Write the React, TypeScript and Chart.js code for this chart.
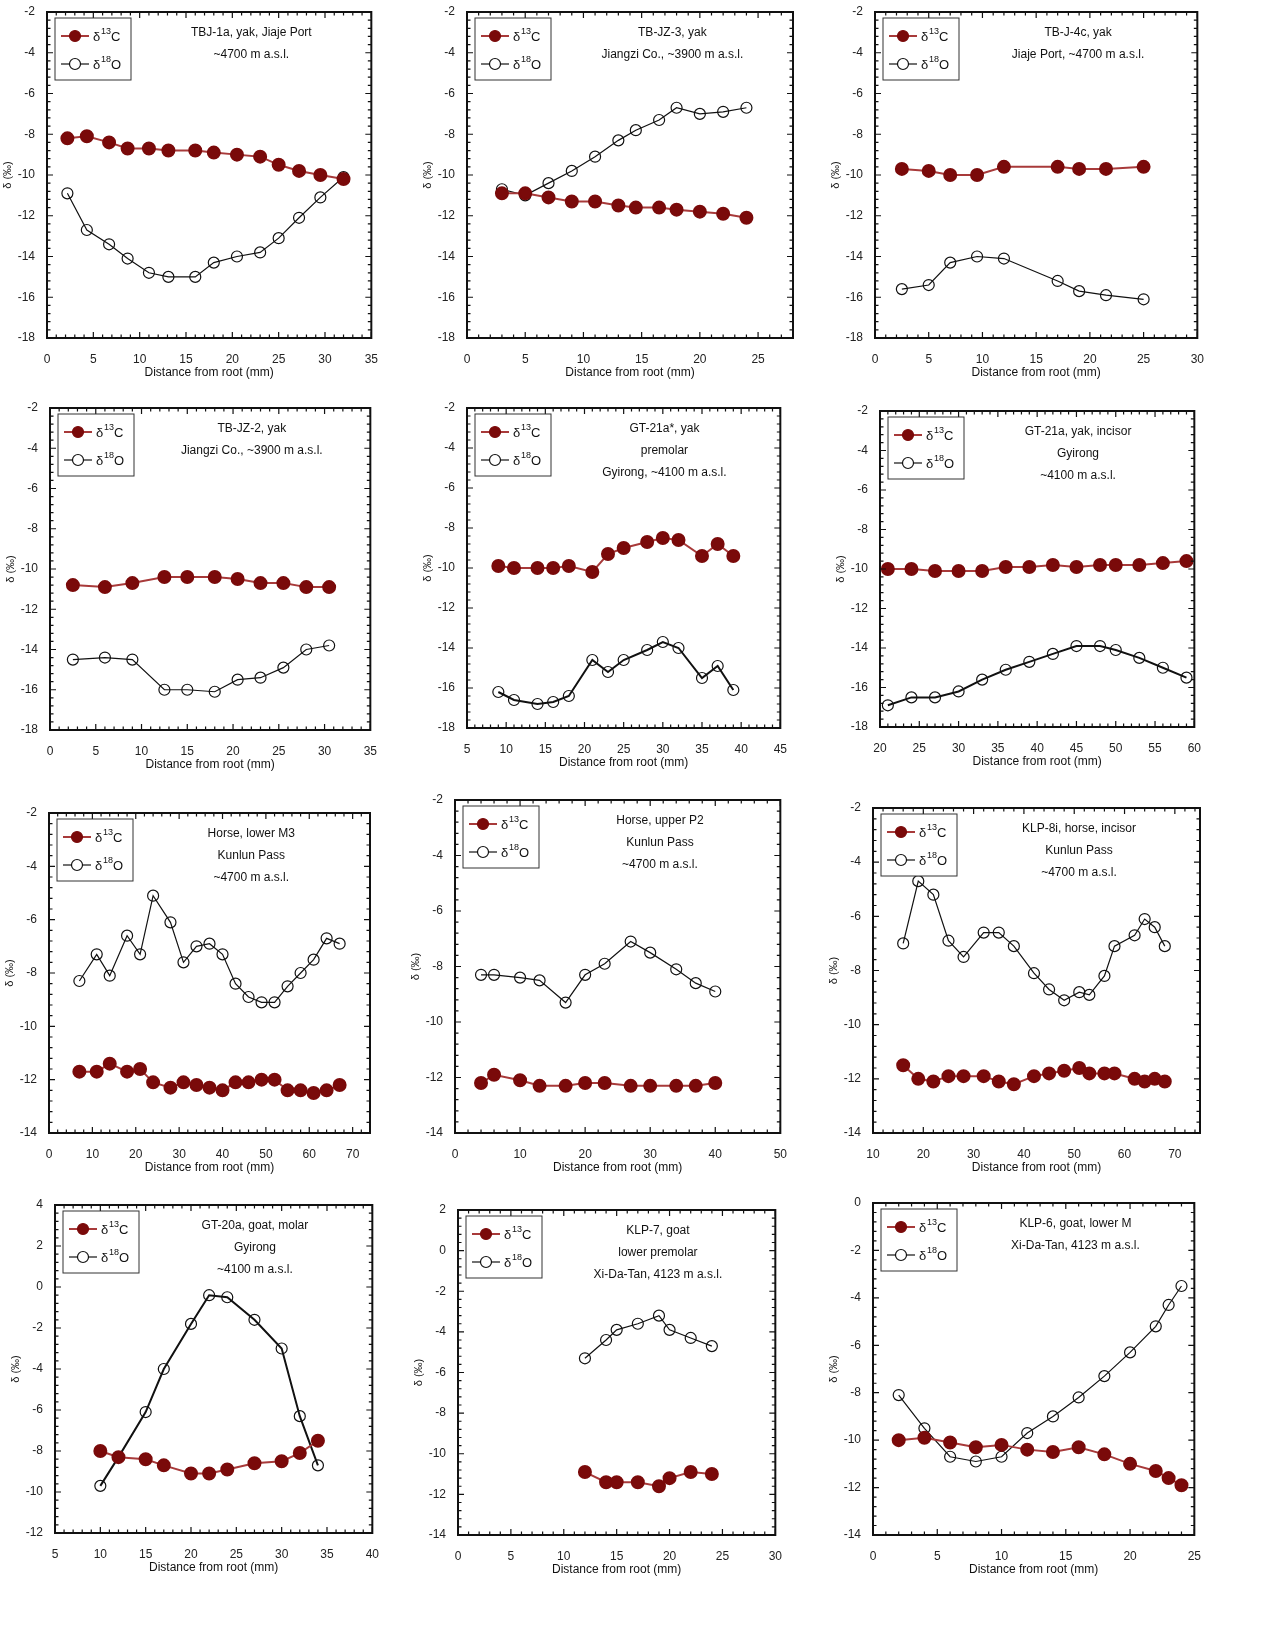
import React, { useEffect, useRef } from 'react';
import { Chart, registerables } from 'chart.js';

Chart.register(...registerables);

// panel data: distances (mm), d13C, d18O
const p1X = [2.2, 4.3, 6.7, 8.7, 11, 13.1, 16, 18, 20.5, 23, 25, 27.2, 29.5, 32];
const p1C = [-8.2, -8.1, -8.4, -8.7, -8.7, -8.8, -8.8, -8.9, -9.0, -9.1, -9.5, -9.8, -10.0, -10.2];
const p1O = [-10.9, -12.7, -13.4, -14.1, -14.8, -15.0, -15.0, -14.3, -14.0, -13.8, -13.1, -12.1, -11.1, -10.1];

const p2X = [3, 5, 7, 9, 11, 13, 14.5, 16.5, 18, 20, 22, 24];
const p2C = [-10.9, -10.9, -11.1, -11.3, -11.3, -11.5, -11.6, -11.6, -11.7, -11.8, -11.9, -12.1];
const p2O = [-10.7, -11.0, -10.4, -9.8, -9.1, -8.3, -7.8, -7.3, -6.7, -7.0, -6.9, -6.7];

const p3X = [2.5, 5, 7, 9.5, 12, 17, 19, 21.5, 25];
const p3C = [-9.7, -9.8, -10.0, -10.0, -9.6, -9.6, -9.7, -9.7, -9.6];
const p3O = [-15.6, -15.4, -14.3, -14.0, -14.1, -15.2, -15.7, -15.9, -16.1];

const p4X = [2.5, 6, 9, 12.5, 15, 18, 20.5, 23, 25.5, 28, 30.5];
const p4C = [-10.8, -10.9, -10.7, -10.4, -10.4, -10.4, -10.5, -10.7, -10.7, -10.9, -10.9];
const p4O = [-14.5, -14.4, -14.5, -16.0, -16.0, -16.1, -15.5, -15.4, -14.9, -14.0, -13.8];

const p5X = [9, 11, 14, 16, 18, 21, 23, 25, 28, 30, 32, 35, 37, 39];
const p5C = [-9.9, -10.0, -10.0, -10.0, -9.9, -10.2, -9.3, -9.0, -8.7, -8.5, -8.6, -9.4, -8.8, -9.4];
const p5O = [-16.2, -16.6, -16.8, -16.7, -16.4, -14.6, -15.2, -14.6, -14.1, -13.7, -14.0, -15.5, -14.9, -16.1];

const p6X = [21, 24, 27, 30, 33, 36, 39, 42, 45, 48, 50, 53, 56, 59];
const p6C = [-10.0, -10.0, -10.1, -10.1, -10.1, -9.9, -9.9, -9.8, -9.9, -9.8, -9.8, -9.8, -9.7, -9.6];
const p6O = [-16.9, -16.5, -16.5, -16.2, -15.6, -15.1, -14.7, -14.3, -13.9, -13.9, -14.1, -14.5, -15.0, -15.5];

const p7X = [7, 11, 14, 18, 21, 24, 28, 31, 34, 37, 40, 43, 46, 49, 52, 55, 58, 61, 64, 67];
const p7C = [-11.7, -11.7, -11.4, -11.7, -11.6, -12.1, -12.3, -12.1, -12.2, -12.3, -12.4, -12.1, -12.1, -12.0, -12.0, -12.4, -12.4, -12.5, -12.4, -12.2];
const p7O = [-8.3, -7.3, -8.1, -6.6, -7.3, -5.1, -6.1, -7.6, -7.0, -6.9, -7.3, -8.4, -8.9, -9.1, -9.1, -8.5, -8.0, -7.5, -6.7, -6.9];

const p8X = [4, 6, 10, 13, 17, 20, 23, 27, 30, 34, 37, 40];
const p8C = [-12.2, -11.9, -12.1, -12.3, -12.3, -12.2, -12.2, -12.3, -12.3, -12.3, -12.3, -12.2];
const p8O = [-8.3, -8.3, -8.4, -8.5, -9.3, -8.3, -7.9, -7.1, -7.5, -8.1, -8.6, -8.9];

const p9X = [16, 19, 22, 25, 28, 32, 35, 38, 42, 45, 48, 51, 53, 56, 58, 62, 64, 66, 68];
const p9C = [-11.5, -12.0, -12.1, -11.9, -11.9, -11.9, -12.1, -12.2, -11.9, -11.8, -11.7, -11.6, -11.8, -11.8, -11.8, -12.0, -12.1, -12.0, -12.1];
const p9O = [-7.0, -4.7, -5.2, -6.9, -7.5, -6.6, -6.6, -7.1, -8.1, -8.7, -9.1, -8.8, -8.9, -8.2, -7.1, -6.7, -6.1, -6.4, -7.1];

const p10X = [10, 12, 15, 17, 20, 22, 24, 27, 30, 32, 34];
const p10C = [-8.0, -8.3, -8.4, -8.7, -9.1, -9.1, -8.9, -8.6, -8.5, -8.1, -7.5];
const p10O = [-9.7, -8.3, -6.1, -4.0, -1.8, -0.4, -0.5, -1.6, -3.0, -6.3, -8.7];

const p11X = [12, 14, 15, 17, 19, 20, 22, 24];
const p11C = [-10.9, -11.4, -11.4, -11.4, -11.6, -11.2, -10.9, -11.0];
const p11O = [-5.3, -4.4, -3.9, -3.6, -3.2, -3.9, -4.3, -4.7];

const p12X = [2, 4, 6, 8, 10, 12, 14, 16, 18, 20, 22, 23, 24];
const p12C = [-10.0, -9.9, -10.1, -10.3, -10.2, -10.4, -10.5, -10.3, -10.6, -11.0, -11.3, -11.6, -11.9];
const p12O = [-8.1, -9.5, -10.7, -10.9, -10.7, -9.7, -9.0, -8.2, -7.3, -6.3, -5.2, -4.3, -3.5];

type Panel = {
  x: number[]; c: number[]; o: number[];
  xMin: number; xMax: number; xStep: number; xLabelMax: number;
  yMin: number; yMax: number;
  text: string[];
  box: [number, number, number, number]; // plot left, top, right, bottom
  oWidth?: number;
};

const panels: Panel[] = [
  { x: p1X, c: p1C, o: p1O, xMin: 0, xMax: 35, xStep: 5, xLabelMax: 35, yMin: -18, yMax: -2, text: ['TBJ-1a, yak, Jiaje Port', '~4700 m a.s.l.'], box: [47, 12, 374, 338] },
  { x: p2X, c: p2C, o: p2O, xMin: 0, xMax: 28, xStep: 5, xLabelMax: 25, yMin: -18, yMax: -2, text: ['TB-JZ-3, yak', 'Jiangzi Co., ~3900 m a.s.l.'], box: [467, 12, 793, 338] },
  { x: p3X, c: p3C, o: p3O, xMin: 0, xMax: 30, xStep: 5, xLabelMax: 30, yMin: -18, yMax: -2, text: ['TB-J-4c, yak', 'Jiaje Port, ~4700 m a.s.l.'], box: [875, 12, 1200, 338] },
  { x: p4X, c: p4C, o: p4O, xMin: 0, xMax: 35, xStep: 5, xLabelMax: 35, yMin: -18, yMax: -2, text: ['TB-JZ-2, yak', 'Jiangzi Co., ~3900 m a.s.l.'], box: [50, 408, 373, 730] },
  { x: p5X, c: p5C, o: p5O, xMin: 5, xMax: 45, xStep: 5, xLabelMax: 45, yMin: -18, yMax: -2, text: ['GT-21a*, yak', 'premolar', 'Gyirong, ~4100 m a.s.l.'], box: [467, 408, 783, 728], oWidth: 2 },
  { x: p6X, c: p6C, o: p6O, xMin: 20, xMax: 60, xStep: 5, xLabelMax: 60, yMin: -18, yMax: -2, text: ['GT-21a, yak, incisor', 'Gyirong', '~4100 m a.s.l.'], box: [880, 411, 1197, 727], oWidth: 2 },
  { x: p7X, c: p7C, o: p7O, xMin: 0, xMax: 74, xStep: 10, xLabelMax: 70, yMin: -14, yMax: -2, text: ['Horse, lower M3', 'Kunlun Pass', '~4700 m a.s.l.'], box: [49, 813, 370, 1133] },
  { x: p8X, c: p8C, o: p8O, xMin: 0, xMax: 50, xStep: 10, xLabelMax: 50, yMin: -14, yMax: -2, text: ['Horse, upper P2', 'Kunlun Pass', '~4700 m a.s.l.'], box: [455, 800, 783, 1133] },
  { x: p9X, c: p9C, o: p9O, xMin: 10, xMax: 75, xStep: 10, xLabelMax: 70, yMin: -14, yMax: -2, text: ['KLP-8i, horse, incisor', 'Kunlun Pass', '~4700 m a.s.l.'], box: [873, 808, 1200, 1133] },
  { x: p10X, c: p10C, o: p10O, xMin: 5, xMax: 40, xStep: 5, xLabelMax: 40, yMin: -12, yMax: 4, text: ['GT-20a, goat, molar', 'Gyirong', '~4100 m a.s.l.'], box: [55, 1205, 375, 1533], oWidth: 2 },
  { x: p11X, c: p11C, o: p11O, xMin: 0, xMax: 30, xStep: 5, xLabelMax: 30, yMin: -14, yMax: 2, text: ['KLP-7, goat', 'lower premolar', 'Xi-Da-Tan, 4123 m a.s.l.'], box: [458, 1210, 778, 1535] },
  { x: p12X, c: p12C, o: p12O, xMin: 0, xMax: 25, xStep: 5, xLabelMax: 25, yMin: -14, yMax: 0, text: ['KLP-6, goat, lower M', 'Xi-Da-Tan, 4123 m a.s.l.'], box: [873, 1203, 1197, 1535] },
];

const RED = '#7a0a0a';
const RED_LINE = '#a83a3a';
const FONT = 'Arial, "Liberation Sans", sans-serif';

const framePlugin = {
  id: 'frame',
  afterDraw(chart: any, _a: any, opts: any) {
    const { ctx, chartArea: ca, scales } = chart;
    const p: Panel = opts.panel;
    ctx.save();
    ctx.strokeStyle = '#111';
    ctx.lineWidth = 2;
    ctx.strokeRect(ca.left, ca.top, ca.right - ca.left, ca.bottom - ca.top);
    ctx.lineWidth = 1.2;
    // x ticks, minor every 1 (or 2 for wide ranges)
    const xMinor = p.xStep === 10 ? 2 : 1;
    for (let v = p.xMin; v <= p.xMax + 1e-6; v += xMinor) {
      const px = scales.x.getPixelForValue(v);
      const major = Math.abs(v / p.xStep - Math.round(v / p.xStep)) < 1e-6;
      const len = major ? 6 : 3.5;
      ctx.beginPath();
      ctx.moveTo(px, ca.bottom); ctx.lineTo(px, ca.bottom - len);
      ctx.moveTo(px, ca.top); ctx.lineTo(px, ca.top + len);
      ctx.stroke();
    }
    for (let v = p.yMin; v <= p.yMax + 1e-6; v += 0.4) {
      const py = scales.y.getPixelForValue(v);
      const major = Math.abs(v / 2 - Math.round(v / 2)) < 1e-6;
      const len = major ? 6 : 3.5;
      ctx.beginPath();
      ctx.moveTo(ca.left, py); ctx.lineTo(ca.left + len, py);
      ctx.moveTo(ca.right, py); ctx.lineTo(ca.right - len, py);
      ctx.stroke();
    }
    // legend box
    const lx = ca.left + 8, ly = ca.top + 6, lw = 76, lh = 62;
    ctx.fillStyle = '#fff';
    ctx.fillRect(lx, ly, lw, lh);
    ctx.lineWidth = 1;
    ctx.strokeStyle = '#333';
    ctx.strokeRect(lx, ly, lw, lh);
    const rows = [
      { y: ly + 18, iso: '13', el: 'C', red: true },
      { y: ly + 46, iso: '18', el: 'O', red: false },
    ];
    rows.forEach((r) => {
      ctx.beginPath();
      ctx.strokeStyle = r.red ? RED_LINE : '#111';
      ctx.lineWidth = r.red ? 2 : 1.2;
      ctx.moveTo(lx + 6, r.y); ctx.lineTo(lx + 34, r.y);
      ctx.stroke();
      ctx.beginPath();
      ctx.arc(lx + 20, r.y, 5.5, 0, Math.PI * 2);
      ctx.fillStyle = r.red ? RED : '#fff';
      ctx.fill();
      ctx.strokeStyle = r.red ? RED : '#111';
      ctx.lineWidth = 1.2;
      ctx.stroke();
      ctx.fillStyle = '#111';
      ctx.textAlign = 'left';
      ctx.textBaseline = 'alphabetic';
      ctx.font = `13px ${FONT}`;
      ctx.fillText('δ', lx + 38, r.y + 5);
      ctx.font = `9px ${FONT}`;
      ctx.fillText(r.iso, lx + 46, r.y - 2);
      ctx.font = `13px ${FONT}`;
      ctx.fillText(r.el, lx + 56, r.y + 5);
    });
    // annotation text
    ctx.font = `12px ${FONT}`;
    ctx.fillStyle = '#111';
    ctx.textAlign = 'center';
    const cx = ca.left + (ca.right - ca.left) * 0.63;
    p.text.forEach((t, i) => ctx.fillText(t, cx, ca.top + 24 + i * 22));
    ctx.restore();
  },
};

const PanelChart: React.FC<{ panel: Panel }> = ({ panel }) => {
  const canvasRef = useRef<HTMLCanvasElement>(null);
  const chartRef = useRef<Chart | null>(null);
  const [l, t, r, b] = panel.box;

  useEffect(() => {
    if (!canvasRef.current) return;
    const ctx = canvasRef.current.getContext('2d');
    if (!ctx) return;
    chartRef.current?.destroy();
    const ticks: number[] = [];
    for (let v = panel.xMin; v <= panel.xLabelMax + 1e-6; v += panel.xStep) ticks.push(v);
    chartRef.current = new Chart(ctx, {
      type: 'line',
      data: {
        datasets: [
          {
            label: 'd13C',
            data: panel.x.map((x, i) => ({ x, y: panel.c[i] })),
            borderColor: RED_LINE,
            borderWidth: 2,
            pointRadius: 6,
            pointBackgroundColor: RED,
            pointBorderColor: RED,
          },
          {
            label: 'd18O',
            data: panel.x.map((x, i) => ({ x, y: panel.o[i] })),
            borderColor: '#111',
            borderWidth: panel.oWidth ?? 1.2,
            pointRadius: 5.5,
            pointBackgroundColor: 'rgba(255,255,255,0)',
            pointBorderColor: '#111',
            pointBorderWidth: 1.2,
          },
        ],
      },
      options: {
        animation: false,
        responsive: true,
        maintainAspectRatio: false,
        layout: { padding: { top: 12, right: 10, left: 2, bottom: 0 } },
        plugins: { legend: { display: false }, tooltip: { enabled: false }, frame: { panel } } as any,
        scales: {
          x: {
            type: 'linear',
            min: panel.xMin,
            max: panel.xMax,
            grid: { display: false },
            border: { display: false },
            afterBuildTicks: (s: any) => { s.ticks = ticks.map((v) => ({ value: v })); },
            afterFit: (s: any) => { s.height = 46; },
            ticks: { color: '#222', font: { size: 12, family: FONT }, padding: 6, maxRotation: 0 },
            title: { display: true, text: 'Distance from root (mm)', color: '#111', font: { size: 12, family: FONT }, padding: { top: 2 } },
          },
          y: {
            min: panel.yMin,
            max: panel.yMax,
            grid: { display: false },
            border: { display: false },
            afterFit: (s: any) => { s.width = 46; },
            ticks: { stepSize: 2, color: '#222', font: { size: 12, family: FONT }, padding: 4 },
            title: { display: true, text: 'δ (‰)', color: '#111', font: { size: 11, family: FONT }, padding: 0 },
          },
        },
      },
      plugins: [framePlugin],
    });
    return () => {
      chartRef.current?.destroy();
      chartRef.current = null;
    };
  }, [panel]);

  return (
    <div style={{ position: 'absolute', left: l - 48, top: t - 12, width: r - l + 58, height: b - t + 12 + 46 }}>
      <canvas ref={canvasRef}></canvas>
    </div>
  );
};

export default function App() {
  return (
    <div style={{ position: 'absolute', left: 0, top: 0, width: 1281, height: 1649, background: '#fff' }}>
      {panels.map((p, i) => <PanelChart key={i} panel={p} />)}
    </div>
  );
}
